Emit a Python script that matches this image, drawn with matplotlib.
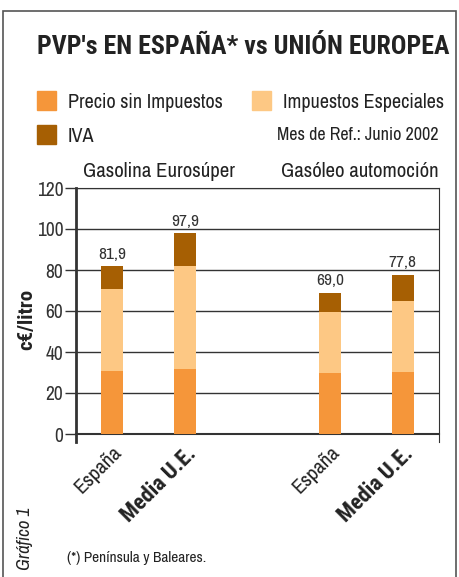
import numpy as np
import matplotlib.pyplot as plt
from matplotlib.patches import Rectangle

# datos (c€/litro)
categorias = ['España', 'Media U.E.', 'España', 'Media U.E.']
posiciones = [0, 1, 3, 4]
precio_sin_impuestos = [30.7, 31.7, 29.9, 30.2]
impuestos_especiales = [39.9, 50.3, 29.6, 34.7]
iva = [11.3, 15.9, 9.5, 12.9]
totales = ['81,9', '97,9', '69,0', '77,8']

col_base = '#F5963A'
col_esp = '#FDC884'
col_iva = '#A65F03'
gris = '#333333'
negrita = ['Roboto Condensed', 'Barlow Condensed', 'DejaVu Sans']

plt.rcParams['font.family'] = ['Archivo Narrow', 'DejaVu Sans']

fig = plt.figure(figsize=(4.6, 5.77), dpi=100)

# marco exterior
fig.patches.append(Rectangle((3 / 460, -0.01), 453 / 460, 1 - 11 / 577 + 0.01,
                             transform=fig.transFigure, fill=False,
                             edgecolor='#555555', linewidth=1.2))

ax = fig.add_axes([76 / 460, 1 - 434 / 577, 363 / 460, 246 / 577])

base = np.array(precio_sin_impuestos)
esp = np.array(impuestos_especiales)
ax.bar(posiciones, base, width=0.3, color=col_base, zorder=3)
ax.bar(posiciones, esp, bottom=base, width=0.3, color=col_esp, zorder=3)
ax.bar(posiciones, iva, bottom=base + esp, width=0.3, color=col_iva, zorder=3)

for p, tot, t in zip(posiciones, base + esp + np.array(iva), totales):
    ax.text(p, tot + 2.0, t, ha='center', va='bottom', fontsize=12.5, color=gris)

ax.set_xlim(-0.5, 4.5)
ax.set_ylim(0, 120)
ax.set_yticks(np.arange(0, 121, 20))
ax.tick_params(axis='y', labelsize=14, length=8, width=1, color=gris,
               labelcolor=gris, pad=1)
ax.yaxis.grid(True, color=gris, linewidth=1)
ax.set_axisbelow(True)

ax.set_xticks(posiciones)
ax.set_xticklabels(categorias, rotation=45, ha='right', rotation_mode='anchor',
                   fontsize=15, color='#222222')
for i, lab in enumerate(ax.get_xticklabels()):
    if i % 2 == 1:
        lab.set_family(negrita)
        lab.set_fontweight('bold')
        lab.set_fontsize(16)
ax.tick_params(axis='x', length=0, pad=6)

ax.spines['left'].set_linewidth(2)
ax.spines['left'].set_color(gris)
ax.spines['left'].set_bounds(-4, 120)
ax.spines['bottom'].set_linewidth(1.5)
ax.spines['bottom'].set_color(gris)
ax.spines['right'].set_color(gris)
ax.spines['right'].set_bounds(-4, 120)
ax.spines['top'].set_color(gris)

fig.text(27 / 460, 1 - 319 / 577, 'c€/litro', rotation=90, ha='center',
         va='center', fontsize=15, fontweight='bold', family=negrita,
         color='#222222')

# titulo y leyenda
fig.text(37 / 460, 1 - 47 / 577, "PVP's EN ESPAÑA* vs UNIÓN EUROPEA",
         ha='left', va='center', fontsize=18.6, fontweight='bold', family=negrita,
         color='#222222')

leyenda = [(37, 91, col_base, 'Precio sin Impuestos'),
           (252, 91, col_esp, 'Impuestos Especiales'),
           (37, 125, col_iva, 'IVA')]
for x, y, c, t in leyenda:
    fig.patches.append(Rectangle((x / 460, 1 - (y + 19) / 577), 19 / 460, 19 / 577,
                                 transform=fig.transFigure, color=c))
    fig.text((x + 31) / 460, 1 - (y + 11) / 577, t, ha='left', va='center',
             fontsize=14.5, color='#222222')

fig.text(439 / 460, 1 - 135 / 577, 'Mes de Ref.: Junio 2002', ha='right',
         va='center', fontsize=13, color='#222222')
fig.text(83 / 460, 1 - 172 / 577, 'Gasolina Eurosúper', ha='left', va='center',
         fontsize=15, color='#222222')
fig.text(439 / 460, 1 - 172 / 577, 'Gasóleo automoción', ha='right', va='center',
         fontsize=15, color='#222222')

fig.text(25 / 460, 1 - 538 / 577, 'Gráfico 1', rotation=90, ha='center',
         va='center', fontsize=13.5, style='italic', color='#222222')
fig.text(67 / 460, 1 - 558 / 577, '(*) Península y Baleares.', ha='left',
         va='center', fontsize=11, color='#222222')

fig.savefig('out.png', dpi=100)
